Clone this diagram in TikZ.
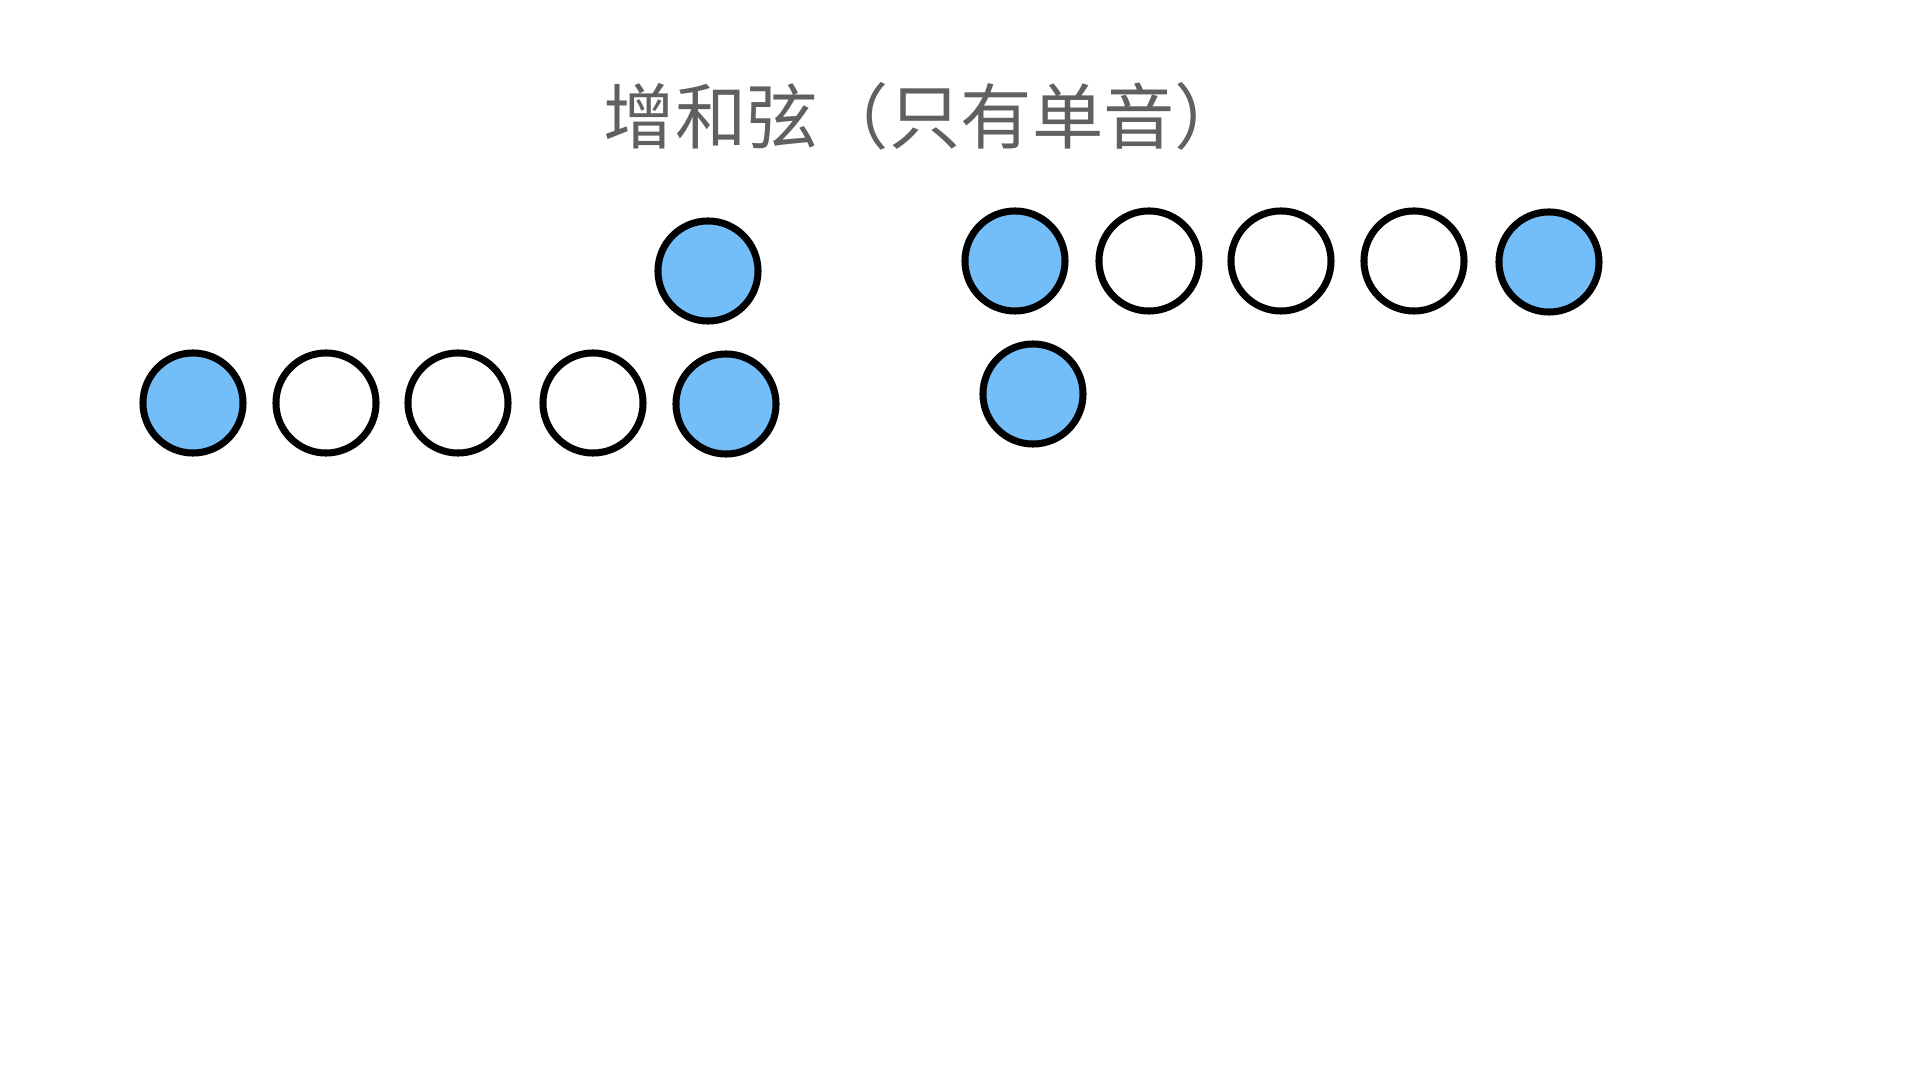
\documentclass[tikz,border=0pt]{standalone}
\usepackage{xcolor}
\usepackage{fontspec}
\usepackage{tikz}
\newfontfamily\cjk{Noto Sans CJK SC}
\definecolor{notefill}{HTML}{73BEF8}
\definecolor{titlegray}{HTML}{606060}

\begin{document}
\begin{tikzpicture}[x=0.01cm,y=-0.01cm,
  note/.style={circle,draw,line width=2pt,minimum size=1cm,inner sep=0pt},
  filled/.style={note,fill=notefill}]
\useasboundingbox (0,0) rectangle (1920,1080);
\node [text=titlegray,font=\cjk\fontsize{20.3}{24}\selectfont] (title) at (925,116) {增和弦（只有单音）};
% left chord
\node [filled] (a0) at (708,271) {};
\node [filled] (a1) at (193,403) {};
\foreach \i/\x in {2/326,3/458,4/593}
  \node [note] (a\i) at (\x,403) {};
\node [filled] (a5) at (726,404) {};
% right chord
\node [filled] (b1) at (1015,261) {};
\foreach \i/\x in {2/1149,3/1281,4/1414}
  \node [note] (b\i) at (\x,261) {};
\node [filled] (b5) at (1549,262) {};
\node [filled] (b0) at (1033,394) {};
\end{tikzpicture}
\end{document}
